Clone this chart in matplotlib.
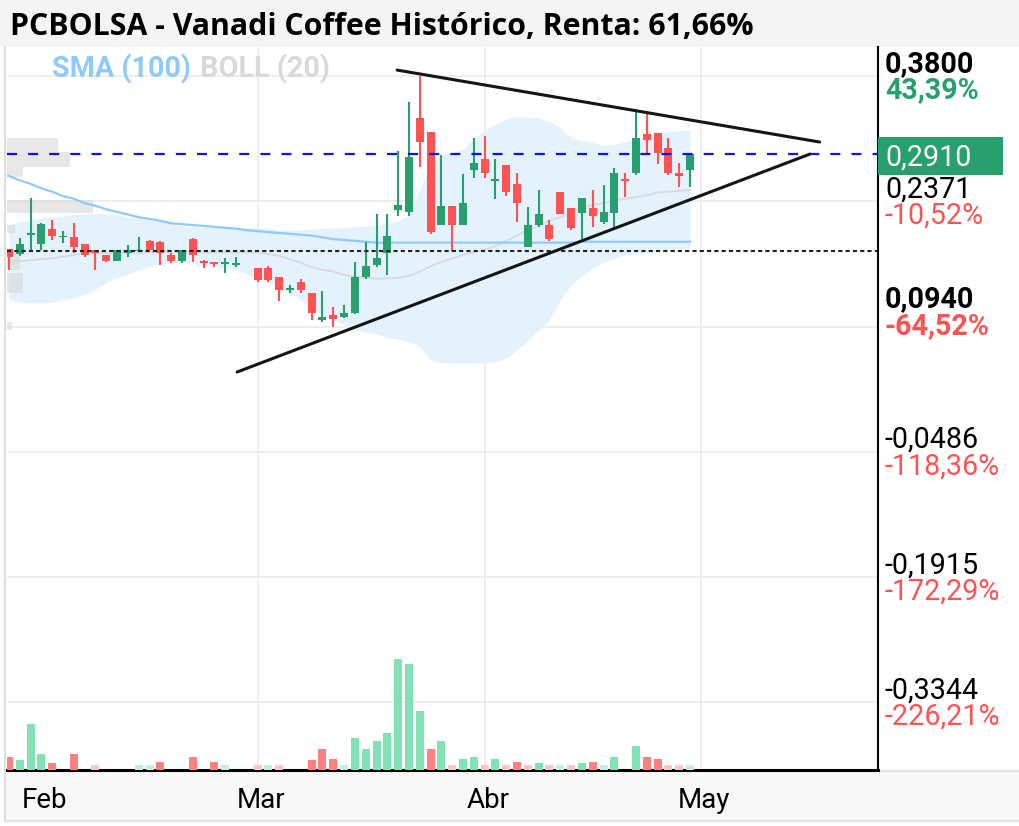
import numpy as np
import matplotlib
matplotlib.use('Agg')
import matplotlib.pyplot as plt
import matplotlib.transforms as mtransforms
import matplotlib.patches as mpatches

plt.rcParams.update({'font.family': 'Roboto', 'font.size': 20.6})

# daily candles, one slot per trading day (27 Jan .. 28 Apr), slot 22 had no trades
opens = [.183, .177, .199, .188, .206, .196, .196, .188, .182, .176,
         .169, .178, .180, .192, .191, .176, .169, .194, .169, .167,
         .166, .164, np.nan, .161, .161, .151, .136, .145, .133, .102,
         .107, .105, .110, .151, .164, .178, .227, .225, .332, .316,
         .210, .232, .210, .273, .285, .260, .279, .257, .185, .210,
         .210, .248, .229, .224, .229, .213, .224, .262, .269, .314,
         .315, .298, .269, .273]
highs = [.183, .195, .241, .212, .216, .203, .212, .188, .182, .176,
         .182, .187, .196, .193, .192, .178, .182, .195, .170, .167,
         .172, .174, np.nan, .161, .163, .151, .142, .149, .133, .135,
         .117, .119, .168, .191, .223, .223, .294, .350, .380, .316,
         .290, .232, .268, .309, .312, .285, .279, .269, .231, .250,
         .216, .248, .229, .241, .250, .256, .275, .269, .339, .339,
         .315, .309, .281, .291]
lows = [.159, .175, .182, .182, .193, .190, .178, .174, .159, .168,
        .169, .174, .179, .182, .164, .167, .167, .168, .161, .162,
        .155, .162, np.nan, .145, .145, .123, .133, .133, .102, .099,
        .094, .104, .109, .148, .162, .153, .220, .220, .276, .200,
        .210, .180, .210, .264, .264, .240, .243, .213, .185, .208,
        .192, .223, .204, .194, .208, .211, .208, .242, .267, .292,
        .280, .267, .253, .253]
closes = [.174, .188, .200, .211, .197, .197, .185, .176, .178, .169,
          .182, .182, .182, .182, .178, .169, .182, .176, .167, .166,
          .167, .167, np.nan, .147, .147, .136, .138, .136, .110, .105,
          .103, .110, .151, .163, .172, .197, .233, .288, .305, .202,
          .232, .210, .235, .281, .269, .262, .248, .235, .210, .223,
          .194, .223, .207, .241, .220, .225, .269, .260, .309, .307,
          .292, .269, .266, .291]
# volume (thousand shares) and whether close was up on the previous close
volume = [12.7, 10, 46, 15.7, 7.3, 0, 15.7, 0, 5, 0,
          0, 0, 5, 5, 7.7, 0, 0, 13.3, 0, 7.7,
          5, 0, 0, 5, 5, 5, 0, 0, 10, 21,
          10.7, 5, 32, 20.7, 29, 37, 111, 106, 59, 21,
          29, 5, 10.7, 12.7, 5, 10.7, 5, 7.7, 5, 7.3,
          5, 5, 5, 7.3, 7.7, 5, 12.7, 0, 24, 12.7,
          10.7, 5, 5, 5]
vol_up = [0, 1, 1, 1, 0, 1, 0, 1, 0, 0,
          1, 1, 1, 1, 0, 0, 1, 0, 0, 0,
          1, 1, 1, 0, 1, 0, 1, 0, 0, 0,
          0, 1, 1, 1, 1, 1, 1, 1, 1, 0,
          1, 0, 1, 1, 0, 1, 0, 0, 0, 1,
          0, 1, 0, 1, 0, 1, 1, 0, 1, 0,
          0, 0, 0, 1]
sma100 = [.266, .261, .257, .252, .248, .243, .240, .235, .232, .228,
          .225, .222, .219, .217, .215, .212, .211, .210, .209, .208,
          .207, .206, .204, .203, .202, .201, .200, .199, .198, .196,
          .194, .193, .192, .191, .190, .190, .190, .190, .190, .190,
          .190, .190, .190, .190, .190, .190, .190, .190, .190, .190,
          .190, .190, .190, .191, .191, .191, .191, .191, .191, .191,
          .191, .191, .191, .191]
boll_up = [.210, .214, .216, .218, .219, .220, .222, .223, .223, .223,
           .222, .219, .218, .216, .214, .211, .209, .208, .207, .207,
           .207, .207, .207, .207, .206, .204, .204, .204, .206, .206,
           .207, .207, .208, .209, .210, .212, .214, .222, .250, .279,
           .290, .293, .296, .309, .318, .325, .331, .334, .333, .332,
           .328, .321, .310, .306, .304, .301, .302, .305, .308, .312,
           .315, .317, .318, .318]
boll_lo = [.125, .122, .121, .121, .122, .125, .127, .131, .137, .144,
           .150, .154, .159, .163, .166, .167, .168, .167, .164, .162,
           .161, .159, .154, .149, .145, .139, .133, .125, .115, .107,
           .102, .096, .090, .088, .086, .082, .080, .077, .072, .056,
           .053, .053, .053, .053, .053, .054, .058, .068, .079, .090,
           .102, .125, .142, .152, .161, .168, .172, .176, .178, .179,
           .180, .182, .183, .184]
boll_mid = [.168, .169, .170, .171, .172, .174, .176, .178, .178, .178,
            .178, .178, .178, .179, .179, .179, .179, .179, .179, .179,
            .179, .179, .179, .179, .177, .175, .171, .167, .162, .159,
            .157, .153, .151, .150, .149, .149, .150, .152, .157, .163,
            .168, .172, .176, .179, .182, .186, .192, .198, .204, .210,
            .215, .219, .225, .230, .233, .235, .238, .240, .242, .244,
            .247, .248, .249, .250]

# volume-by-price blocks on the left edge
profile_lo = [.2933, .2762, .2648, .2238, .2010, .1588, .1325, .0903]
profile_hi = [.3093, .2933, .2762, .2386, .2101, .1816, .1553, .0994]
profile_len = [4.7, 5.8, 1.5, 8.0, 0.7, 1.2, 1.5, 0.5]

# trend lines drawn on the chart (x in candle slots, y in price)
upper_x, upper_y = [35.9, 75.0], [0.3868, 0.3047]
lower_x, lower_y = [21.1, 74.1], [0.0424, 0.2910]

last_price = 0.291
buy_price = 0.18

tick_vals = [0.38, 0.2371, 0.094, -0.0486, -0.1915, -0.3344]
tick_labels = ['0,3800', '0,2371', '0,0940', '-0,0486', '-0,1915', '-0,3344']
pct_labels = ['43,39%', '-10,52%', '-64,52%', '-118,36%', '-172,29%', '-226,21%']
months = ['Feb', 'Mar', 'Abr', 'May']
month_pos = [3, 23, 44, 64]

GREEN = '#27a06d'
RED = '#ff5252'

W, H = 1019, 826
fig = plt.figure(figsize=(W / 100, H / 100), dpi=100)
fy = lambda y: (H - y) / H

# title bar and date strip
fig.patches.append(mpatches.Rectangle((0, fy(47)), 1, 47 / H, transform=fig.transFigure,
                                      facecolor='#f4f4f4', edgecolor='none', zorder=-2))
fig.patches.append(mpatches.Rectangle((5 / W, fy(821)), 1, 50 / H, transform=fig.transFigure,
                                      facecolor='#f8f8f8', edgecolor='#e2e2e2', lw=1.5, zorder=-2))
fig.lines.append(plt.Line2D([5 / W, 5 / W], [fy(821), fy(47)], transform=fig.transFigure,
                            color='#dedede', lw=1.5, zorder=-1))

ax = fig.add_axes([7 / W, fy(770), 871 / W, 723 / H])
ax.set_xlim(-0.185, 80.39)
ax.set_ylim(-0.4115, 0.4131)
ax.set_xticks([])
ax.set_yticks([])
for s in ['left', 'top']:
    ax.spines[s].set_visible(False)
ax.spines['bottom'].set_linewidth(2.2)
ax.spines['right'].set_linewidth(1.5)
ax.spines['bottom'].set_zorder(8)

for v in tick_vals:
    ax.axhline(v, color='#ebebeb', lw=1.2, zorder=0)
for p in month_pos[1:]:
    ax.axvline(p, color='#ebebeb', lw=1.2, zorder=0)

idx = np.arange(len(closes))
o = np.array(opens); h = np.array(highs); l = np.array(lows); c = np.array(closes)

ax.fill_between(idx, boll_lo, boll_up, color='#e3f2fd', lw=0, zorder=1)
ax.barh(profile_lo, profile_len, height=np.array(profile_hi) - np.array(profile_lo),
        left=-0.185, align='edge', color='#d8d8d8', alpha=0.6, lw=0, zorder=1.5)
ax.plot(idx, boll_mid, color='#d9d9d9', lw=1.3, zorder=2)
ax.plot(np.r_[-0.185, idx], np.r_[sma100[0], sma100], color='#90caf9', lw=1.6, zorder=2)

ok = ~np.isnan(c)
up = c >= o
cols = np.where(up, GREEN, RED)
ax.vlines(idx[ok], l[ok], h[ok], colors=cols[ok], lw=1.5, zorder=3)
body = np.maximum(np.abs(c - o), 0.0018)
ax.bar(idx[ok], body[ok], bottom=np.minimum(o, c)[ok], width=0.74, color=cols[ok], lw=0, zorder=4)

ax.axhline(last_price, color='#1010f0', lw=1.6, dashes=(4.5, 5), zorder=5)
ax.axhline(buy_price, color='#222222', lw=1.5, dashes=(2, 1.5), zorder=5)
ax.plot(upper_x, upper_y, color='#151515', lw=2.2, zorder=6, solid_capstyle='round')
ax.plot(lower_x, lower_y, color='#151515', lw=2.2, zorder=6, solid_capstyle='round')

# volume on its own scale
axv = ax.twinx()
axv.set_ylim(0, 723)
axv.axis('off')
vol = np.array(volume)
vcol = [('#c4f0da' if u else '#ffc4c4') if v < 6 else ('#80e2b2' if u else '#ff8080')
        for v, u in zip(vol, vol_up)]
axv.bar(idx, vol, width=0.74, color=vcol, lw=0)

# right-hand price scale
blend = mtransforms.blended_transform_factory(ax.transAxes, ax.transData)
def right_text(y, s, dy, **kw):
    tr = mtransforms.offset_copy(blend, fig=fig, x=0, y=-dy, units='dots')
    ax.text(1.008, y, s, transform=tr, va='baseline', ha='left', clip_on=False, **kw)

for i, (v, t, p) in enumerate(zip(tick_vals, tick_labels, pct_labels)):
    bold = i in (0, 2)
    dv, dp = (-4, 22.5) if i != 2 else (-20, 7)
    right_text(v, t, dv, color='black', fontweight='bold' if bold else 'normal')
    pc = GREEN if i == 0 else RED
    right_text(v, p, dp, color=pc, fontweight='bold' if bold else 'normal')

ax.add_patch(mpatches.Rectangle((1.0, last_price - 0.0239), 0.1435, 0.0433, transform=blend,
                                facecolor=GREEN, edgecolor='none', clip_on=False, zorder=10))
right_text(last_price, '0,2910', 12, color='white', zorder=11)

# month labels
mtr = mtransforms.blended_transform_factory(ax.transData, fig.transFigure)
for m, p in zip(months, month_pos):
    ax.text(p + 0.3, fy(808), m, transform=mtr, ha='center', va='baseline', color='black',
            fontsize=20, clip_on=False, zorder=12)

fig.text(10 / W, fy(35), 'PCBOLSA - Vanadi Coffee Histórico, Renta: 61,66%',
         fontfamily='Open Sans', fontweight='bold', fontsize=21.8, va='baseline')
fig.text(52 / W, fy(77), 'SMA (100)', color='#90caf9', fontweight='bold', fontsize=20.7, va='baseline')
fig.text(200 / W, fy(77), 'BOLL (20)', color='#d9d9d9', fontweight='bold', fontsize=20.7, va='baseline')

fig.savefig('out.png', dpi=100, facecolor='white')
